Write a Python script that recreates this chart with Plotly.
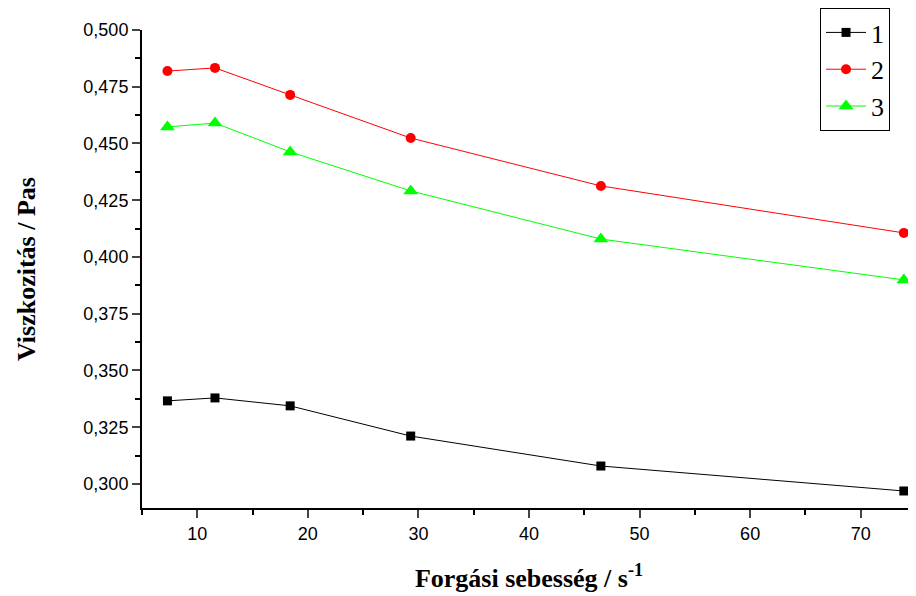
import plotly.graph_objects as go

speed = [7.3, 11.6, 18.4, 29.3, 46.5, 73.9]
visc_1 = [0.3366, 0.3379, 0.3344, 0.3211, 0.3079, 0.2969]
visc_2 = [0.4819, 0.4833, 0.4714, 0.4524, 0.4313, 0.4106]
visc_3 = [0.4573, 0.4590, 0.4463, 0.4291, 0.4079, 0.3899]
series_names = ["1", "2", "3"]
x_ticks = [10, 20, 30, 40, 50, 60, 70]
y_ticks = [0.300, 0.325, 0.350, 0.375, 0.400, 0.425, 0.450, 0.475, 0.500]

fig = go.Figure()
styles = [
    ("black", "square", 9),
    ("red", "circle", 10),
    ("#00ff00", "triangle-up", 13),
]
for name, vals, (col, sym, sz) in zip(series_names, [visc_1, visc_2, visc_3], styles):
    fig.add_trace(go.Scatter(
        x=speed, y=vals, name=name, mode="lines+markers",
        line=dict(color=col, width=1),
        marker=dict(color=col, symbol=sym, size=sz, line=dict(width=0)),
        cliponaxis=False,
    ))

# page body has an 8px margin; figure is sized to fill the rest of the window
fig.update_layout(
    width=908, height=588,
    margin=dict(l=134, r=0, t=22, b=88, autoexpand=False),
    paper_bgcolor="white", plot_bgcolor="white",
    separators=", ",
    font=dict(family="Liberation Sans, Arial", size=16, color="black"),
    showlegend=True,
    legend=dict(
        x=0.876, y=1.046, xanchor="left", yanchor="top",
        bordercolor="black", borderwidth=1, bgcolor="white",
        font=dict(family="Liberation Serif, Times New Roman", size=26, color="black"),
        itemwidth=40, tracegroupgap=0,
    ),
    xaxis=dict(
        range=[5, 75], tickvals=x_ticks, ticks="outside", ticklen=8, tickwidth=1.5,
        showline=True, linecolor="black", linewidth=2, showgrid=False, zeroline=False,
        automargin=False,
        minor=dict(dtick=5, tick0=5, ticks="outside", ticklen=5, tickwidth=1.5, tickcolor="black"),
        tickfont=dict(family="Liberation Sans, Arial", size=18),
        title=dict(text="<b>Forgási sebesség / s<sup>-1</sup></b>",
                   font=dict(family="Liberation Serif, Times New Roman", size=26), standoff=26),
    ),
    yaxis=dict(
        range=[0.2894, 0.5], tickvals=y_ticks, tickformat=".3f", ticks="outside", ticklen=8, tickwidth=1.5,
        showline=True, linecolor="black", linewidth=2, showgrid=False, zeroline=False,
        automargin=False,
        minor=dict(dtick=0.0125, tick0=0.3, ticks="outside", ticklen=5, tickwidth=1.5, tickcolor="black"),
        tickfont=dict(family="Liberation Sans, Arial", size=18),
        title=dict(text="<b>Viszkozitás / Pas</b>",
                   font=dict(family="Liberation Serif, Times New Roman", size=26), standoff=40),
    ),
)

fig.write_html("out.html")
